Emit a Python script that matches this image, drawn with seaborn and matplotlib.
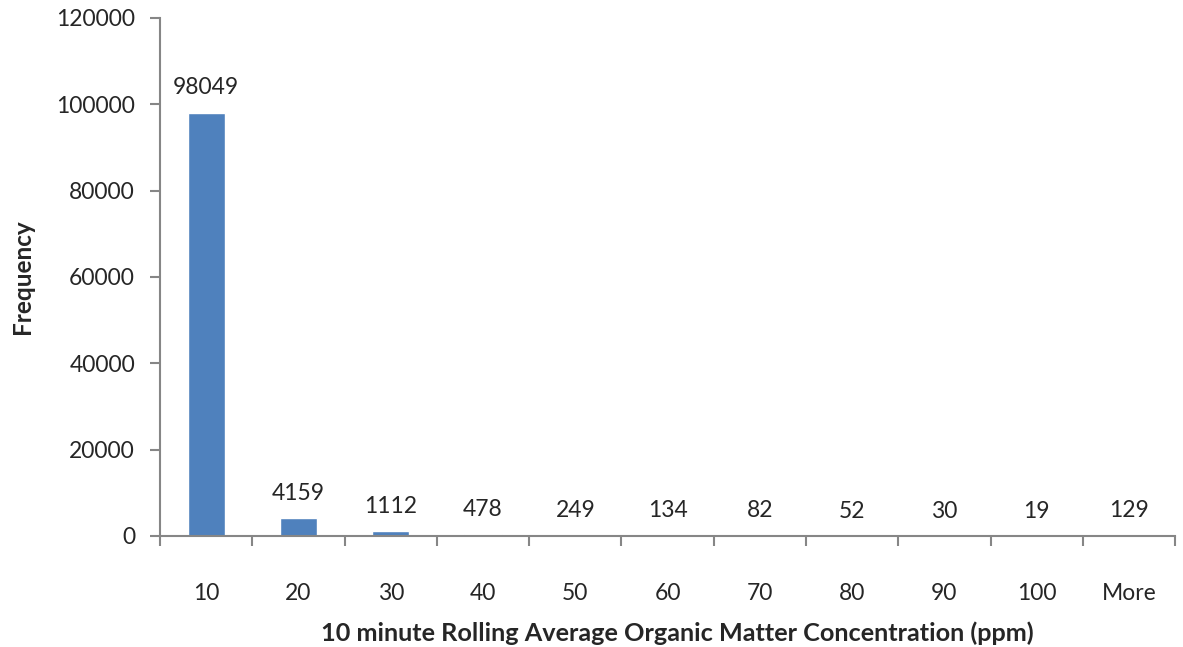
import matplotlib
matplotlib.use("Agg")
import matplotlib.pyplot as plt
import seaborn as sns
import pandas as pd
import numpy as np

bins = ["10", "20", "30", "40", "50", "60", "70", "80", "90", "100", "More"]
frequency = [98049, 4159, 1112, 478, 249, 134, 82, 52, 30, 19, 129]
yticks = [0, 20000, 40000, 60000, 80000, 100000, 120000]

sns.set_style("white")
plt.rcParams["font.family"] = ["Lato", "DejaVu Sans"]
plt.rcParams["font.size"] = 16.5

df = pd.DataFrame({"bin": bins, "freq": frequency})

fig = plt.figure(figsize=(11.83, 6.47), dpi=100)
ax = fig.add_axes([0.1353, 0.1716, 0.858, 0.8006])

sns.barplot(data=df, x="bin", y="freq", color="#4F81BD", width=0.405,
            saturation=1, ax=ax)

# value labels above each bar
for i, v in enumerate(frequency):
    ax.text(i, v + 3300, str(v), ha="center", va="bottom", fontsize=16.5)

ax.set_ylim(0, 120000)
ax.set_xlim(-0.5, len(bins) - 0.5)
ax.set_yticks(yticks)
ax.set_yticklabels([str(t) for t in yticks])

# Excel-style tick marks between categories
ax.set_xticks(np.arange(-0.5, len(bins), 1.0), minor=True)
ax.tick_params(axis="x", which="major", length=0, pad=34, labelsize=16.5)
ax.tick_params(axis="x", which="minor", length=7, color="#868686", width=1.5,
               direction="out", bottom=True)
ax.tick_params(axis="y", length=7, color="#868686", width=1.5, direction="out",
               left=True, labelsize=16.5, pad=11)

for s in ["top", "right"]:
    ax.spines[s].set_visible(False)
for s in ["left", "bottom"]:
    ax.spines[s].set_color("#868686")
    ax.spines[s].set_linewidth(1.5)

ax.set_xlabel("10 minute Rolling Average Organic Matter Concentration (ppm)",
              fontsize=18.2, fontweight="bold")
ax.set_ylabel("Frequency", fontsize=17.5, fontweight="bold")
ax.xaxis.set_label_coords(0.51, -0.187)
ax.yaxis.set_label_coords(-0.136, 0.5)
ax.xaxis.label.set_va("center")
ax.yaxis.label.set_va("center")

fig.savefig("out.png", dpi=100)
